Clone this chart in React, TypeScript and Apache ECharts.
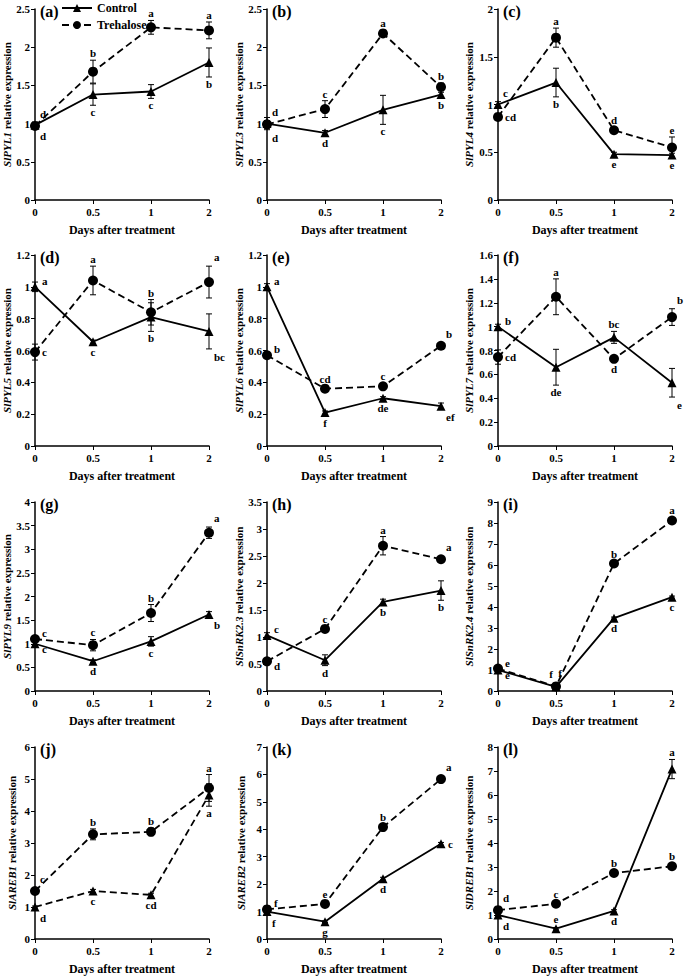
import React, { useEffect, useRef } from 'react';
import * as echarts from 'echarts';

const days = ['0', '0.5', '1', '2'];
const panelTags = ['(a)', '(b)', '(c)', '(d)', '(e)', '(f)', '(g)', '(h)', '(i)', '(j)', '(k)', '(l)'];
const genes = ['SlPYL1', 'SlPYL3', 'SlPYL4', 'SlPYL5', 'SlPYL6', 'SlPYL7', 'SlPYL9', 'SlSnRK2.3', 'SlSnRK2.4', 'SlAREB1', 'SlAREB2', 'SlDREB1'];
const yMax = [2.5, 2.5, 2, 1.2, 1.2, 1.6, 4, 3.5, 9, 6, 7, 8];
const yStep = [0.5, 0.5, 0.5, 0.2, 0.2, 0.2, 0.5, 0.5, 1, 1, 1, 1];

const control = [
  [0.98, 1.38, 1.42, 1.8],
  [1.0, 0.88, 1.18, 1.38],
  [1.0, 1.23, 0.48, 0.47],
  [1.0, 0.655, 0.81, 0.72],
  [1.0, 0.21, 0.3, 0.25],
  [1.0, 0.66, 0.91, 0.53],
  [1.0, 0.63, 1.05, 1.62],
  [1.03, 0.57, 1.65, 1.86],
  [1.0, 0.2, 3.47, 4.47],
  [1.0, 1.5, 1.38, 4.5],
  [1.0, 0.63, 2.2, 3.47],
  [1.0, 0.43, 1.17, 7.08],
];
const controlErr = [
  [0.04, 0.14, 0.09, 0.19],
  [0.08, 0.03, 0.19, 0.03],
  [0.03, 0.15, 0.02, 0.02],
  [0.03, 0.01, 0.09, 0.11],
  [0.02, 0.01, 0.01, 0.02],
  [0.02, 0.15, 0.05, 0.12],
  [0.03, 0.03, 0.1, 0.06],
  [0.05, 0.1, 0.05, 0.18],
  [0.05, 0.05, 0.05, 0.05],
  [0.03, 0.05, 0.05, 0.35],
  [0.03, 0.03, 0.05, 0.05],
  [0.03, 0.05, 0.05, 0.4],
];
const trehalose = [
  [0.97, 1.68, 2.26, 2.22],
  [0.99, 1.19, 2.18, 1.48],
  [0.87, 1.7, 0.73, 0.55],
  [0.59, 1.04, 0.84, 1.03],
  [0.57, 0.36, 0.375, 0.63],
  [0.745, 1.25, 0.73, 1.08],
  [1.1, 0.97, 1.65, 3.35],
  [0.55, 1.15, 2.69, 2.44],
  [1.07, 0.22, 6.07, 8.12],
  [1.5, 3.27, 3.35, 4.72],
  [1.08, 1.28, 4.08, 5.83],
  [1.2, 1.47, 2.75, 3.03],
];
const trehaloseErr = [
  [0.04, 0.15, 0.09, 0.11],
  [0.05, 0.11, 0.02, 0.05],
  [0.03, 0.1, 0.02, 0.11],
  [0.05, 0.09, 0.08, 0.1],
  [0.02, 0.01, 0.01, 0.01],
  [0.06, 0.15, 0.02, 0.07],
  [0.05, 0.12, 0.18, 0.12],
  [0.03, 0.04, 0.17, 0.05],
  [0.08, 0.05, 0.08, 0.08],
  [0.05, 0.17, 0.12, 0.42],
  [0.05, 0.05, 0.08, 0.08],
  [0.05, 0.05, 0.1, 0.08],
];
const controlLetters = [
  ['d', 'c', 'c', 'b'], ['d', 'd', 'c', 'b'], ['c', 'b', 'e', 'e'],
  ['a', 'c', 'b', 'bc'], ['a', 'f', 'de', 'ef'], ['b', 'de', 'bc', 'e'],
  ['c', 'd', 'c', 'b'], ['c', 'd', 'b', 'b'], ['e', 'f', 'd', 'c'],
  ['d', 'c', 'cd', 'a'], ['f', 'g', 'd', 'c'], ['d', 'e', 'd', 'a'],
];
const trehaloseLetters = [
  ['d', 'b', 'a', 'a'], ['d', 'c', 'a', 'b'], ['cd', 'a', 'd', 'e'],
  ['c', 'a', 'b', 'a'], ['b', 'cd', 'c', 'b'], ['cd', 'a', 'd', 'b'],
  ['c', 'c', 'b', 'a'], ['d', 'c', 'a', 'a'], ['e', 'f', 'b', 'a'],
  ['c', 'b', 'b', 'a'], ['f', 'e', 'b', 'a'], ['d', 'c', 'b', 'b'],
];

// layout: letter placement codes
const controlPlace = [
  ['br', 'b', 'b', 'b'], ['br', 'b', 'b', 'b'], ['tr', 'b', 'b', 'b'],
  ['rt', 'b', 'b', 'br'], ['rt', 'b', 'b', 'br'], ['rt', 'b', 't', 'br'],
  ['rb', 'b', 'b', 'br'], ['rt', 'b', 'b', 'b'], ['rb', 'tl', 'b', 'b'],
  ['br', 'b', 'b', 'b'], ['br', 'b', 'b', 'r'], ['br', 't', 'b', 't'],
];
const trehalosePlace = [
  ['tr', 't', 't', 't'], ['tr', 't', 't', 't'], ['r', 't', 't', 't'],
  ['r', 't', 't', 'tr'], ['rt', 't', 't', 'tr'], ['r', 't', 'b', 'tr'],
  ['rt', 't', 't', 'tr'], ['rb', 't', 't', 'tr'], ['rt', 'tc', 't', 't'],
  ['tr', 't', 't', 't'], ['rt', 't', 't', 'tr'], ['tr', 't', 't', 't'],
];

const rowTop = [9, 255, 502, 747];
const rowH = [191, 191, 189, 192];
const colLeft = [35, 267, 498];
const colW = [174, 174, 174];
const nameGaps = [18, 21, 24];
const FONT = '"Liberation Serif", "Times New Roman", serif';

function labelFor(code: string, errPx: number) {
  const e = Math.max(errPx, 3);
  let align = 'center';
  let off = [0, 0];
  switch (code) {
    case 't': off = [0, -(e + 7)]; break;
    case 'b': off = [0, e + 7]; break;
    case 'tr': align = 'left'; off = [5, -(e + 9)]; break;
    case 'br': align = 'left'; off = [5, e + 8]; break;
    case 'r': align = 'left'; off = [7, 0]; break;
    case 'rt': align = 'left'; off = [7, -6]; break;
    case 'rb': align = 'left'; off = [7, 5]; break;
    case 'tl': off = [-5, -13]; break;
    case 'tc': off = [4, -13]; break;
  }
  return {
    show: true,
    position: 'inside',
    align,
    verticalAlign: 'middle',
    offset: off,
    color: '#000',
    fontFamily: FONT,
    fontWeight: 'bold',
    fontSize: 11,
  };
}

function buildOption() {
  const grid: any[] = [];
  const xAxis: any[] = [];
  const yAxis: any[] = [];
  const series: any[] = [];
  const graphic: any[] = [];

  for (let p = 0; p < 12; p++) {
    const r = Math.floor(p / 3);
    const c = p % 3;
    grid.push({ left: colLeft[c], top: rowTop[r], width: colW[c], height: rowH[r], containLabel: false });
    xAxis.push({
      type: 'category',
      gridIndex: p,
      data: days,
      boundaryGap: false,
      name: 'Days after treatment',
      nameLocation: 'middle',
      nameGap: 24,
      nameTextStyle: { fontFamily: FONT, fontWeight: 'bold', fontSize: 12, color: '#000' },
      axisLine: { lineStyle: { color: '#000', width: 1.5 } },
      axisTick: { show: true, length: 4, lineStyle: { color: '#000', width: 1 } },
      axisLabel: { fontFamily: FONT, fontWeight: 'bold', fontSize: 11, color: '#000', margin: 6 },
      splitLine: { show: false },
    });
    yAxis.push({
      type: 'value',
      gridIndex: p,
      min: 0,
      max: yMax[p],
      interval: yStep[p],
      name: '{i|' + genes[p] + '} relative expression',
      nameLocation: 'middle',
      nameGap: nameGaps[c],
      nameTextStyle: {
        fontFamily: FONT, fontWeight: 'bold', fontSize: 11, color: '#000',
        rich: { i: { fontFamily: FONT, fontWeight: 'bold', fontStyle: 'italic', fontSize: 11, color: '#000' } },
      },
      axisLine: { show: true, lineStyle: { color: '#000', width: 1.5 } },
      axisTick: { show: true, length: 4, lineStyle: { color: '#000', width: 1 } },
      axisLabel: { fontFamily: FONT, fontWeight: 'bold', fontSize: 11, color: '#000', margin: 5 },
      splitLine: { show: false },
    });

    const scale = rowH[r] / yMax[p];
    const groups = [
      { name: 'Control', vals: control[p], errs: controlErr[p], letters: controlLetters[p], place: controlPlace[p], symbol: 'triangle', size: 9, dashed: p === 9 },
      { name: 'Trehalose', vals: trehalose[p], errs: trehaloseErr[p], letters: trehaloseLetters[p], place: trehalosePlace[p], symbol: 'circle', size: 10, dashed: true },
    ];
    for (const g of groups) {
      series.push({
        type: 'custom',
        name: g.name + ' err ' + p,
        xAxisIndex: p,
        yAxisIndex: p,
        z: 1,
        silent: true,
        data: g.vals.map((v, i) => [i, v - g.errs[i], v + g.errs[i]]),
        encode: { x: 0, y: [1, 2] },
        renderItem: (params: any, api: any) => {
          const x = api.value(0);
          const lo = api.coord([x, api.value(1)]);
          const hi = api.coord([x, api.value(2)]);
          const w = 3;
          const st = { stroke: '#000', lineWidth: 1 };
          return {
            type: 'group',
            children: [
              { type: 'line', shape: { x1: lo[0], y1: lo[1], x2: hi[0], y2: hi[1] }, style: st },
              { type: 'line', shape: { x1: lo[0] - w, y1: lo[1], x2: lo[0] + w, y2: lo[1] }, style: st },
              { type: 'line', shape: { x1: hi[0] - w, y1: hi[1], x2: hi[0] + w, y2: hi[1] }, style: st },
            ],
          };
        },
      });
      series.push({
        type: 'line',
        name: g.name,
        xAxisIndex: p,
        yAxisIndex: p,
        z: 3,
        symbol: g.symbol,
        symbolSize: g.size,
        showAllSymbol: true,
        itemStyle: { color: '#000' },
        lineStyle: { color: '#000', width: 1.8, type: g.dashed ? [7, 4] : 'solid' },
        data: g.vals.map((v, i) => ({
          value: v,
          label: { ...labelFor(g.place[i], g.errs[i] * scale), formatter: g.letters[i] },
        })),
      });
    }

    graphic.push({
      type: 'text',
      left: colLeft[c] + 5,
      top: rowTop[r] - 6,
      style: { text: panelTags[p], font: 'bold 16px ' + FONT, fill: '#000' },
    });
  }

  return {
    animation: false,
    backgroundColor: '#fff',
    legend: {
      data: ['Control', 'Trehalose'],
      orient: 'vertical',
      left: 56,
      top: -3,
      itemWidth: 30,
      itemHeight: 10,
      itemGap: 5,
      selectedMode: false,
      textStyle: { fontFamily: FONT, fontWeight: 'bold', fontSize: 12, color: '#000' },
    },
    grid,
    xAxis,
    yAxis,
    series,
    graphic,
  };
}

export default function App() {
  const ref = useRef<HTMLDivElement>(null);
  useEffect(() => {
    if (!ref.current) return;
    const chart = echarts.init(ref.current, undefined, { renderer: 'svg' });
    chart.setOption(buildOption() as any);
    return () => chart.dispose();
  }, []);
  return (
    <div
      ref={ref}
      style={{ position: 'absolute', left: 0, top: 0, width: 685, height: 978, background: '#fff' }}
    />
  );
}
